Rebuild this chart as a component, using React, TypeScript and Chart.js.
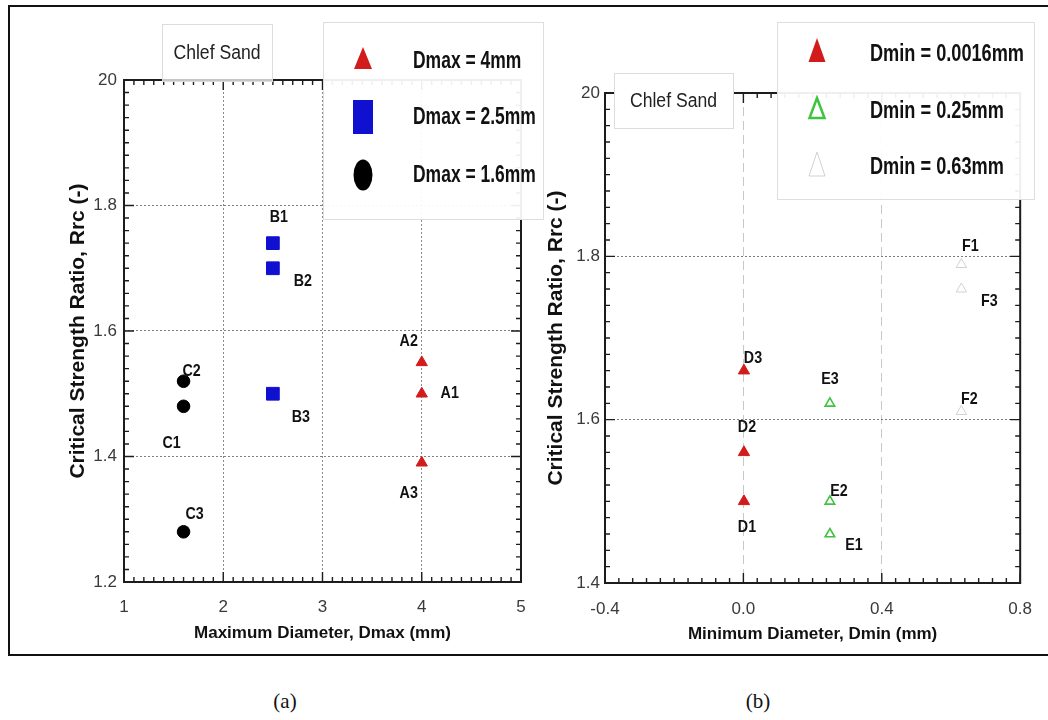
import React, { useEffect, useRef } from "react";
import { Chart, registerables } from "chart.js";
Chart.register(...registerables);

// ---------- data (a) ----------
const dmaxA = [4, 4, 4];
const rrcA = [1.5, 1.55, 1.39];
const namesA = ["A1", "A2", "A3"];
const dmaxB = [2.5, 2.5, 2.5];
const rrcB = [1.74, 1.7, 1.5];
const namesB = ["B1", "B2", "B3"];
const dmaxC = [1.6, 1.6, 1.6];
const rrcC = [1.48, 1.52, 1.28];
const namesC = ["C1", "C2", "C3"];
const legendA = ["Dmax = 4mm", "Dmax = 2.5mm", "Dmax = 1.6mm"];
const xTickValsA = [1, 2, 3, 4, 5];
const xTicksA = ["1", "2", "3", "4", "5"];
const yTickValsA = [1.2, 1.4, 1.6, 1.8, 2.0];
const yTicksA = ["1.2", "1.4", "1.6", "1.8", "20"];

// ---------- data (b) ----------
const dminD = [0.0016, 0.0016, 0.0016];
const rrcD = [1.5, 1.56, 1.66];
const namesD = ["D1", "D2", "D3"];
const dminE = [0.25, 0.25, 0.25];
const rrcE = [1.46, 1.5, 1.62];
const namesE = ["E1", "E2", "E3"];
const dminF = [0.63, 0.63, 0.63];
const rrcF = [1.79, 1.61, 1.76];
const namesF = ["F1", "F2", "F3"];
const legendB = ["Dmin = 0.0016mm", "Dmin = 0.25mm", "Dmin = 0.63mm"];
const xTickValsB = [-0.4, 0, 0.4, 0.8];
const xTicksB = ["-0.4", "0.0", "0.4", "0.8"];
const yTickValsB = [1.4, 1.6, 1.8, 2.0];
const yTicksB = ["1.4", "1.6", "1.8", "20"];

const yTitle = "Critical Strength Ratio, Rrc (-)";
const xTitleA = "Maximum Diameter, Dmax (mm)";
const xTitleB = "Minimum Diameter, Dmin (mm)";
const tagText = "Chlef Sand";

// ---------- styles ----------
const SANS = '"Liberation Sans", Arial, sans-serif';
const RED = "#d21c1c";
const BLUE = "#1010d0";
const BLACK = "#000000";
const GREEN = "#3ec43e";
const LGRAY = "#d2d2d2";

function squeezedText(ctx: any, text: string, x: number, y: number, sx: number, align: string) {
  ctx.save();
  ctx.translate(x, y);
  ctx.scale(sx, 1);
  ctx.textAlign = align;
  ctx.textBaseline = "middle";
  ctx.fillText(text, 0, 0);
  ctx.restore();
}

const framePlugin = {
  id: "frame",
  beforeDatasetsDraw(chart: any, _a: any, o: any) {
    const { ctx, chartArea, scales } = chart;
    const { left, right, top, bottom } = chartArea;
    const xs = scales.x, ys = scales.y;
    ctx.save();
    ctx.strokeStyle = "#1c1c1c";
    ctx.lineWidth = 1.4;
    const nx = Math.round((xs.max - xs.min) / o.minorX);
    for (let i = 0; i <= nx; i++) {
      const px = xs.getPixelForValue(xs.min + i * o.minorX);
      const len = i % o.every === 0 ? o.majorLen : o.minorLen;
      ctx.beginPath();
      ctx.moveTo(px, bottom); ctx.lineTo(px, bottom - len);
      ctx.moveTo(px, top); ctx.lineTo(px, top + len);
      ctx.stroke();
    }
    const ny = Math.round((ys.max - ys.min) / o.minorY);
    for (let i = 0; i <= ny; i++) {
      const py = ys.getPixelForValue(ys.min + i * o.minorY);
      const len = i % o.every === 0 ? o.majorLen : o.minorLen;
      ctx.beginPath();
      ctx.moveTo(left, py); ctx.lineTo(left + len, py);
      ctx.moveTo(right, py); ctx.lineTo(right - len, py);
      ctx.stroke();
    }
    ctx.lineWidth = 2;
    ctx.strokeRect(left, top, right - left, bottom - top);
    ctx.restore();
  },
};

const namesPlugin = {
  id: "pointNames",
  afterDatasetsDraw(chart: any, _a: any, o: any) {
    const { ctx } = chart;
    ctx.save();
    ctx.font = `bold 17px ${SANS}`;
    ctx.fillStyle = "#111";
    chart.data.datasets.forEach((ds: any, i: number) => {
      const meta = chart.getDatasetMeta(i);
      meta.data.forEach((el: any, j: number) => {
        const off = o.offsets[i][j];
        squeezedText(ctx, ds.names[j], el.x + off[0], el.y + off[1], 0.84, "center");
      });
    });
    ctx.restore();
  },
};

function drawMarker(ctx: any, m: any, fill: string, stroke: string) {
  const { shape, x, y, w, h, lw, filled } = m;
  ctx.beginPath();
  if (shape === "triangle") {
    ctx.moveTo(x, y - h / 2);
    ctx.lineTo(x + w / 2, y + h / 2);
    ctx.lineTo(x - w / 2, y + h / 2);
    ctx.closePath();
  } else if (shape === "rect") {
    ctx.rect(x - w / 2, y - h / 2, w, h);
  } else {
    ctx.ellipse(x, y, w / 2, h / 2, 0, 0, Math.PI * 2);
  }
  if (filled) {
    ctx.fillStyle = fill;
    ctx.fill();
  } else {
    ctx.lineWidth = lw;
    ctx.strokeStyle = stroke;
    ctx.stroke();
  }
}

const overlayPlugin = {
  id: "overlay",
  afterDraw(chart: any, _a: any, o: any) {
    const { ctx } = chart;
    ctx.save();
    // sample tag
    const [tx, ty, tw, th] = o.tag;
    ctx.fillStyle = `rgba(255,255,255,${o.tagAlpha})`;
    ctx.fillRect(tx, ty, tw, th);
    ctx.strokeStyle = "#dcdcdc";
    ctx.lineWidth = 1;
    ctx.strokeRect(tx + 0.5, ty + 0.5, tw, th);
    ctx.fillStyle = "#222";
    ctx.font = `20px ${SANS}`;
    squeezedText(ctx, tagText, tx + tw / 2, ty + th / 2 + 1, 0.88, "center");
    // legend
    const [lx, ly, lw, lh] = o.box;
    ctx.fillStyle = "rgba(255,255,255,0.93)";
    ctx.fillRect(lx, ly, lw, lh);
    ctx.strokeStyle = "#dedede";
    ctx.strokeRect(lx + 0.5, ly + 0.5, lw, lh);
    chart.data.datasets.forEach((ds: any, i: number) => {
      drawMarker(ctx, o.markers[i], ds.backgroundColor, ds.borderColor);
      ctx.font = `bold 23px ${SANS}`;
      ctx.fillStyle = "#111";
      squeezedText(ctx, ds.label, o.textX, o.textY[i], o.textScale, "left");
    });
    ctx.restore();
  },
};

function pts(xs: number[], ys: number[]) {
  return xs.map((x, i) => ({ x, y: ys[i] }));
}

function axis(min: number, max: number, vals: number[], labels: string[], fit: (s: any) => void, tickPad: number, gridColor: string, dash: number[], title: string, titleFont: any, titlePad: any) {
  return {
    type: "linear",
    min,
    max,
    afterBuildTicks: (s: any) => {
      s.ticks = vals.map((v) => ({ value: v }));
    },
    afterFit: fit,
    ticks: {
      autoSkip: false,
      maxRotation: 0,
      padding: tickPad,
      color: "#3a3a3a",
      font: { family: SANS, size: 17 },
      callback: (_v: any, i: number) => labels[i],
    },
    grid: { color: gridColor, lineWidth: 1, drawTicks: false },
    border: { display: false, dash },
    title: { display: true, text: title, color: "#111", font: titleFont, padding: titlePad },
  };
}

function ScatterPanel(props: any) {
  const ref = useRef<HTMLCanvasElement>(null);
  useEffect(() => {
    const chart = new Chart(ref.current as HTMLCanvasElement, props.config);
    return () => chart.destroy();
  }, []);
  return (
    <canvas
      ref={ref}
      width={props.w}
      height={props.h}
      style={{ position: "absolute", left: props.left, top: props.top, width: props.w, height: props.h }}
    />
  );
}

const configA: any = {
  type: "scatter",
  data: {
    datasets: [
      { label: legendA[0], names: namesA, data: pts(dmaxA, rrcA), pointStyle: "triangle", pointRadius: 6.5, backgroundColor: RED, borderColor: RED, borderWidth: 1 },
      { label: legendA[1], names: namesB, data: pts(dmaxB, rrcB), pointStyle: "rect", pointRadius: 9, backgroundColor: BLUE, borderColor: BLUE, borderWidth: 1 },
      { label: legendA[2], names: namesC, data: pts(dmaxC, rrcC), pointStyle: "circle", pointRadius: 6.3, backgroundColor: BLACK, borderColor: BLACK, borderWidth: 1 },
    ],
  },
  options: {
    animation: false,
    responsive: false,
    devicePixelRatio: 1,
    events: [],
    layout: { padding: { left: 0, top: 80, right: 29, bottom: 0 } },
    scales: {
      x: axis(1, 5, xTickValsA, xTicksA, (s: any) => { s.height = 68; }, 15, "#8a8a8a", [2, 2], xTitleA, { family: SANS, size: 17, weight: "bold" }, { top: 0, bottom: 6 }),
      y: axis(1.2, 2.0, yTickValsA, yTicksA, (s: any) => { s.width = 64; }, 7, "#808080", [2, 2], yTitle, { family: SANS, size: 21, weight: "bold" }, { top: 5.4, bottom: 0 }),
    },
    plugins: {
      legend: { display: false },
      tooltip: { enabled: false },
      frame: { minorX: 0.1, minorY: 0.02, every: 10, minorLen: 5, majorLen: 10 },
      pointNames: {
        offsets: [
          [[28, 0], [-13, -21], [-13, 31]],
          [[6, -26], [30, 13], [28, 24]],
          [[-12, 37], [8, -10], [11, -17]],
        ],
      },
      overlay: {
        tag: [102, 24, 110, 57],
        tagAlpha: 0.75,
        box: [263, 22, 220, 197],
        textX: 353,
        textY: [62, 118, 176],
        textScale: 0.76,
        markers: [
          { shape: "triangle", x: 303, y: 58, w: 18, h: 22, filled: true },
          { shape: "rect", x: 303, y: 117, w: 20, h: 34, filled: true },
          { shape: "circle", x: 303, y: 175, w: 19, h: 31, filled: true },
        ],
      },
    },
  },
  plugins: [framePlugin, namesPlugin, overlayPlugin],
};

const configB: any = {
  type: "scatter",
  data: {
    datasets: [
      { label: legendB[0], names: namesD, data: pts(dminD, rrcD), pointStyle: "triangle", pointRadius: 6.5, backgroundColor: RED, borderColor: RED, borderWidth: 1 },
      { label: legendB[1], names: namesE, data: pts(dminE, rrcE), pointStyle: "triangle", pointRadius: 5.5, backgroundColor: "rgba(255,255,255,0)", borderColor: GREEN, borderWidth: 1.6 },
      { label: legendB[2], names: namesF, data: pts(dminF, rrcF), pointStyle: "triangle", pointRadius: 6, backgroundColor: "rgba(255,255,255,0)", borderColor: LGRAY, borderWidth: 1 },
    ],
  },
  options: {
    animation: false,
    responsive: false,
    devicePixelRatio: 1,
    events: [],
    layout: { padding: { left: 0, top: 93, right: 16, bottom: 0 } },
    scales: {
      x: axis(-0.4, 0.8, xTickValsB, xTicksB, (s: any) => { s.height = 67; }, 16, "#c8c8c8", [9, 5], xTitleB, { family: SANS, size: 17, weight: "bold" }, { top: 0, bottom: 5 }),
      y: axis(1.4, 2.0, yTickValsB, yTicksB, (s: any) => { s.width = 75; }, 5, "#7a7a7a", [2, 2], yTitle, { family: SANS, size: 21, weight: "bold" }, { top: 13.4, bottom: 0 }),
    },
    plugins: {
      legend: { display: false },
      tooltip: { enabled: false },
      frame: { minorX: 0.04, minorY: 0.02, every: 10, minorLen: 5, majorLen: 10 },
      pointNames: {
        offsets: [
          [[3, 26], [3, -25], [9, -12]],
          [[24, 11], [9, -10], [0, -24]],
          [[9, -18], [8, -12], [28, 12]],
        ],
      },
      overlay: {
        tag: [84, 73, 119, 55],
        tagAlpha: 1,
        box: [247, 22, 257, 177],
        textX: 340,
        textY: [55, 112, 168],
        textScale: 0.79,
        markers: [
          { shape: "triangle", x: 287, y: 50, w: 17, h: 24, filled: true },
          { shape: "triangle", x: 287, y: 108, w: 15, h: 20, filled: false, lw: 2.5 },
          { shape: "triangle", x: 287, y: 164, w: 16, h: 24, filled: false, lw: 1 },
        ],
      },
    },
  },
  plugins: [framePlugin, namesPlugin, overlayPlugin],
};

export default function App() {
  return (
    <div style={{ position: "fixed", left: 0, top: 0, width: 1048, height: 720, background: "#fff", overflow: "hidden" }}>
      <div style={{ position: "absolute", left: 8, top: 5, width: 1060, height: 647, border: "2px solid #111" }} />
      <ScatterPanel config={configA} left={60} top={0} w={490} h={650} />
      <ScatterPanel config={configB} left={530} top={0} w={518} h={650} />
      <div style={{ position: "absolute", left: 245, width: 80, top: 689, textAlign: "center", font: '21px "Liberation Serif", serif', color: "#111" }}>(a)</div>
      <div style={{ position: "absolute", left: 718, width: 80, top: 689, textAlign: "center", font: '21px "Liberation Serif", serif', color: "#111" }}>(b)</div>
    </div>
  );
}
